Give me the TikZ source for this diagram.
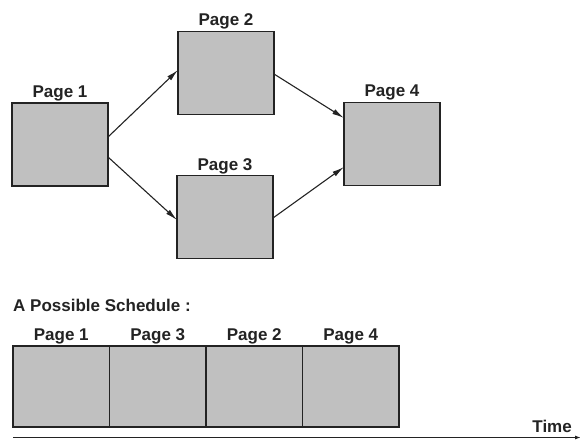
\documentclass[tikz,border=0pt]{standalone}
\usepackage{fontspec}
\setmainfont{Liberation Sans}
\usetikzlibrary{arrows.meta,positioning}
\definecolor{boxgray}{RGB}{192,192,192}
\definecolor{edgegray}{RGB}{35,35,35}

\begin{document}
\begin{tikzpicture}[x=1pt,y=-1pt,
    pagebox/.style={draw=edgegray, line width=1.3pt, fill=boxgray, minimum width=96pt, minimum height=83pt, inner sep=0pt, outer sep=0pt},
    pagelabel/.style={font=\fontsize{17}{20}\selectfont\bfseries, text=edgegray, inner sep=0pt, anchor=base},
    link/.style={-{Latex[length=12pt,width=5.5pt]}, line width=1.1pt, draw=edgegray}]

    %Frame
    \useasboundingbox (0,0) rectangle (580,439);

    %Dependency graph
    \node[pagebox] (p1) at (60,144.5) {}; %Page 1
    \node[pagebox] (p2) at (226,73) {}; %Page 2
    \node[pagebox] (p3) at (225,217) {}; %Page 3
    \node[pagebox] (p4) at (392,144) {}; %Page 4
    \node[pagelabel] (l1) at ([yshift=6pt]p1.north) {Page 1};
    \node[pagelabel] (l2) at ([yshift=6pt]p2.north) {Page 2};
    \node[pagelabel] (l3) at ([yshift=5.5pt]p3.north) {Page 3};
    \node[pagelabel] (l4) at ([yshift=6pt]p4.north) {Page 4};

    %Arrows
    \draw[link] ([yshift=7.5pt]p1.east) -- ([yshift=3pt]p2.west);
    \draw[link] ([yshift=-12.5pt]p1.east) -- ([yshift=-3pt]p3.west);
    \draw[link] ([yshift=-1pt]p2.east) -- ([yshift=26pt]p4.west);
    \draw[link] ([yshift=-1pt]p3.east) -- ([yshift=-23pt]p4.west);

    %Schedule
    \node[pagelabel, anchor=base west] (sched) at (13,311) {A Possible Schedule :};
    \node[pagebox, minimum width=96.5pt, minimum height=81pt, anchor=north west] (s1) at (13,346) {};
    \node[pagebox, minimum width=96.5pt, minimum height=81pt, right=0pt of s1] (s2) {};
    \node[pagebox, minimum width=96.5pt, minimum height=81pt, right=0pt of s2] (s3) {};
    \node[pagebox, minimum width=96.5pt, minimum height=81pt, right=0pt of s3] (s4) {};
    \node[pagelabel] (k1) at ([yshift=5.5pt]s1.north) {Page 1};
    \node[pagelabel] (k2) at ([yshift=5.5pt]s2.north) {Page 3};
    \node[pagelabel] (k3) at ([yshift=5.5pt]s3.north) {Page 2};
    \node[pagelabel] (k4) at ([yshift=5.5pt]s4.north) {Page 4};

    %Time axis
    \coordinate (t0) at (13,437.5);
    \coordinate (t1) at (581,437.5);
    \draw[edgegray, line width=1.1pt, -{Latex[length=6pt,width=4pt]}] (t0) -- (t1);
    \node[pagelabel, anchor=base east] (time) at (572,432) {Time};

\end{tikzpicture}
\end{document}
